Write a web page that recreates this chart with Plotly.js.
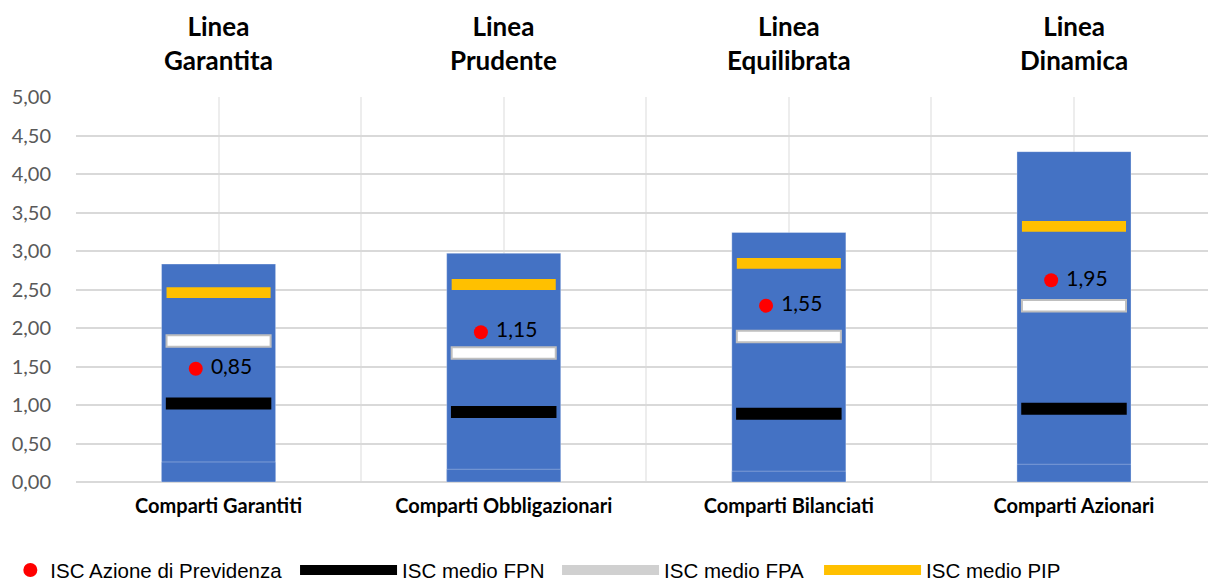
<!DOCTYPE html>
<html>
<head>
<meta charset="utf-8">
<script src="https://cdn.plot.ly/plotly-3.0.1.min.js"></script>
<style>html,body{margin:0;padding:0;background:#fff;}#chart{width:1208px;height:583px;}</style>
</head>
<body>
<div id="chart"></div>
<script>
// ---- data ----
const categories = ['Comparti Garantiti', 'Comparti Obbligazionari', 'Comparti Bilanciati', 'Comparti Azionari'];
const lineTitles = ['Linea<br>Garantita', 'Linea<br>Prudente', 'Linea<br>Equilibrata', 'Linea<br>Dinamica'];
const rangeTop = [2.83, 2.97, 3.24, 4.29];
const rangeBase = [0.26, 0.165, 0.14, 0.23];
const iscPIP = [2.46, 2.565, 2.84, 3.32];
const iscFPA = [1.83, 1.675, 1.89, 2.29];
const iscFPN = [1.02, 0.91, 0.885, 0.95];
const iscAzionePos = [1.47, 1.945, 2.29, 2.62];
const iscAzioneValues = [0.85, 1.15, 1.55, 1.95];

// ---- derived ----
const idx = categories.map((c, i) => i);
const fmt = v => '\u00a0' + v.toFixed(2).replace('.', ',');
const T_Y = 0.14, T_W = 0.15, T_B = 0.156;

const blue = '#4472C4';
const traces = [
  { type: 'bar', x: idx, y: rangeTop, width: 0.4, showlegend: false, hoverinfo: 'skip',
    marker: { color: blue, line: { color: 'rgba(255,255,255,0.3)', width: 1 } } },
  { type: 'bar', x: idx, y: rangeBase, width: 0.4, showlegend: false, hoverinfo: 'skip',
    marker: { color: blue, line: { color: 'rgba(255,255,255,0.3)', width: 1 } } },
  { type: 'bar', x: idx, base: iscPIP.map(v => v - T_Y / 2), y: iscPIP.map(() => T_Y), width: 0.365,
    showlegend: false, hoverinfo: 'skip', marker: { color: '#FFC000', line: { width: 0 } } },
  { type: 'bar', x: idx, base: iscFPA.map(v => v - T_W / 2), y: iscFPA.map(() => T_W), width: 0.365,
    showlegend: false, hoverinfo: 'skip', marker: { color: '#FFFFFF', line: { color: '#BFBFBF', width: 2 } } },
  { type: 'bar', x: idx, base: iscFPN.map(v => v - T_B / 2), y: iscFPN.map(() => T_B), width: 0.37,
    showlegend: false, hoverinfo: 'skip', marker: { color: '#000000', line: { width: 0 } } },
  { type: 'scatter', mode: 'markers+text', name: 'ISC Azione di Previdenza', legend: 'legend',
    x: idx.map(i => i - 0.08), y: iscAzionePos, text: iscAzioneValues.map(fmt),
    textposition: 'middle right', textfont: { family: 'Lato', size: 21, color: '#000' },
    marker: { color: '#FF0000', size: 14 }, hoverinfo: 'skip' },
  { type: 'scatter', mode: 'lines', name: 'ISC medio FPN', legend: 'legend2', x: [null], y: [null],
    line: { color: '#000000', width: 12 } },
  { type: 'scatter', mode: 'lines', name: 'ISC medio FPA', legend: 'legend2', x: [null], y: [null],
    line: { color: '#D0D0D0', width: 12 } },
  { type: 'scatter', mode: 'lines', name: 'ISC medio PIP', legend: 'legend2', x: [null], y: [null],
    line: { color: '#FFC000', width: 12 } }
];

const tickvals = [], ticktext = [];
for (let v = -0.5; v <= categories.length - 0.5; v += 0.5) {
  tickvals.push(v);
  ticktext.push(Number.isInteger(v) ? '<b>' + categories[v] + '</b>' : '');
}

const annotations = lineTitles.map((t, i) => ({
  x: i, xref: 'x', y: 1.14, yref: 'paper', yanchor: 'middle', showarrow: false,
  text: '<b>' + t + '</b>', font: { family: 'Lato', size: 26, color: '#000' }
}));

const legendFont = { family: 'Liberation Sans, Arial', size: 20.5, color: '#000' };
const layout = {
  width: 1208, height: 583,
  margin: { l: 76, r: 0, t: 97, b: 101, autoexpand: false },
  paper_bgcolor: '#fff', plot_bgcolor: '#fff',
  barmode: 'overlay', separators: ',.',
  xaxis: {
    range: [-0.5, categories.length - 0.53], tickmode: 'array', tickvals: tickvals, ticktext: ticktext,
    showgrid: true, gridcolor: '#EDEDED', gridwidth: 2, zeroline: false, showline: false,
    ticks: 'outside', ticklen: 6, tickcolor: 'rgba(0,0,0,0)',
    tickfont: { family: 'Lato', size: 20, color: '#000' }
  },
  yaxis: {
    range: [0, 5], dtick: 0.5, tick0: 0, tickformat: '.2f',
    showgrid: true, gridcolor: '#D9D9D9', gridwidth: 2, zeroline: true, zerolinecolor: '#D9D9D9', zerolinewidth: 2,
    showline: false, ticks: 'outside', ticklen: 20, tickcolor: 'rgba(0,0,0,0)',
    tickfont: { family: 'Lato', size: 20, color: '#595959' }
  },
  showlegend: true,
  legend: { orientation: 'h', x: -0.058, xanchor: 'left', y: -0.229, yanchor: 'middle',
    font: legendFont, itemwidth: 30, bgcolor: 'rgba(0,0,0,0)' },
  legend2: { orientation: 'h', x: 0.1935, xanchor: 'left', y: -0.229, yanchor: 'middle',
    font: legendFont, itemwidth: 97, entrywidth: 150, entrywidthmode: 'pixels', bgcolor: 'rgba(0,0,0,0)' },
  annotations: annotations
};

Plotly.newPlot('chart', traces, layout, { displayModeBar: false, responsive: false });
</script>
</body>
</html>
